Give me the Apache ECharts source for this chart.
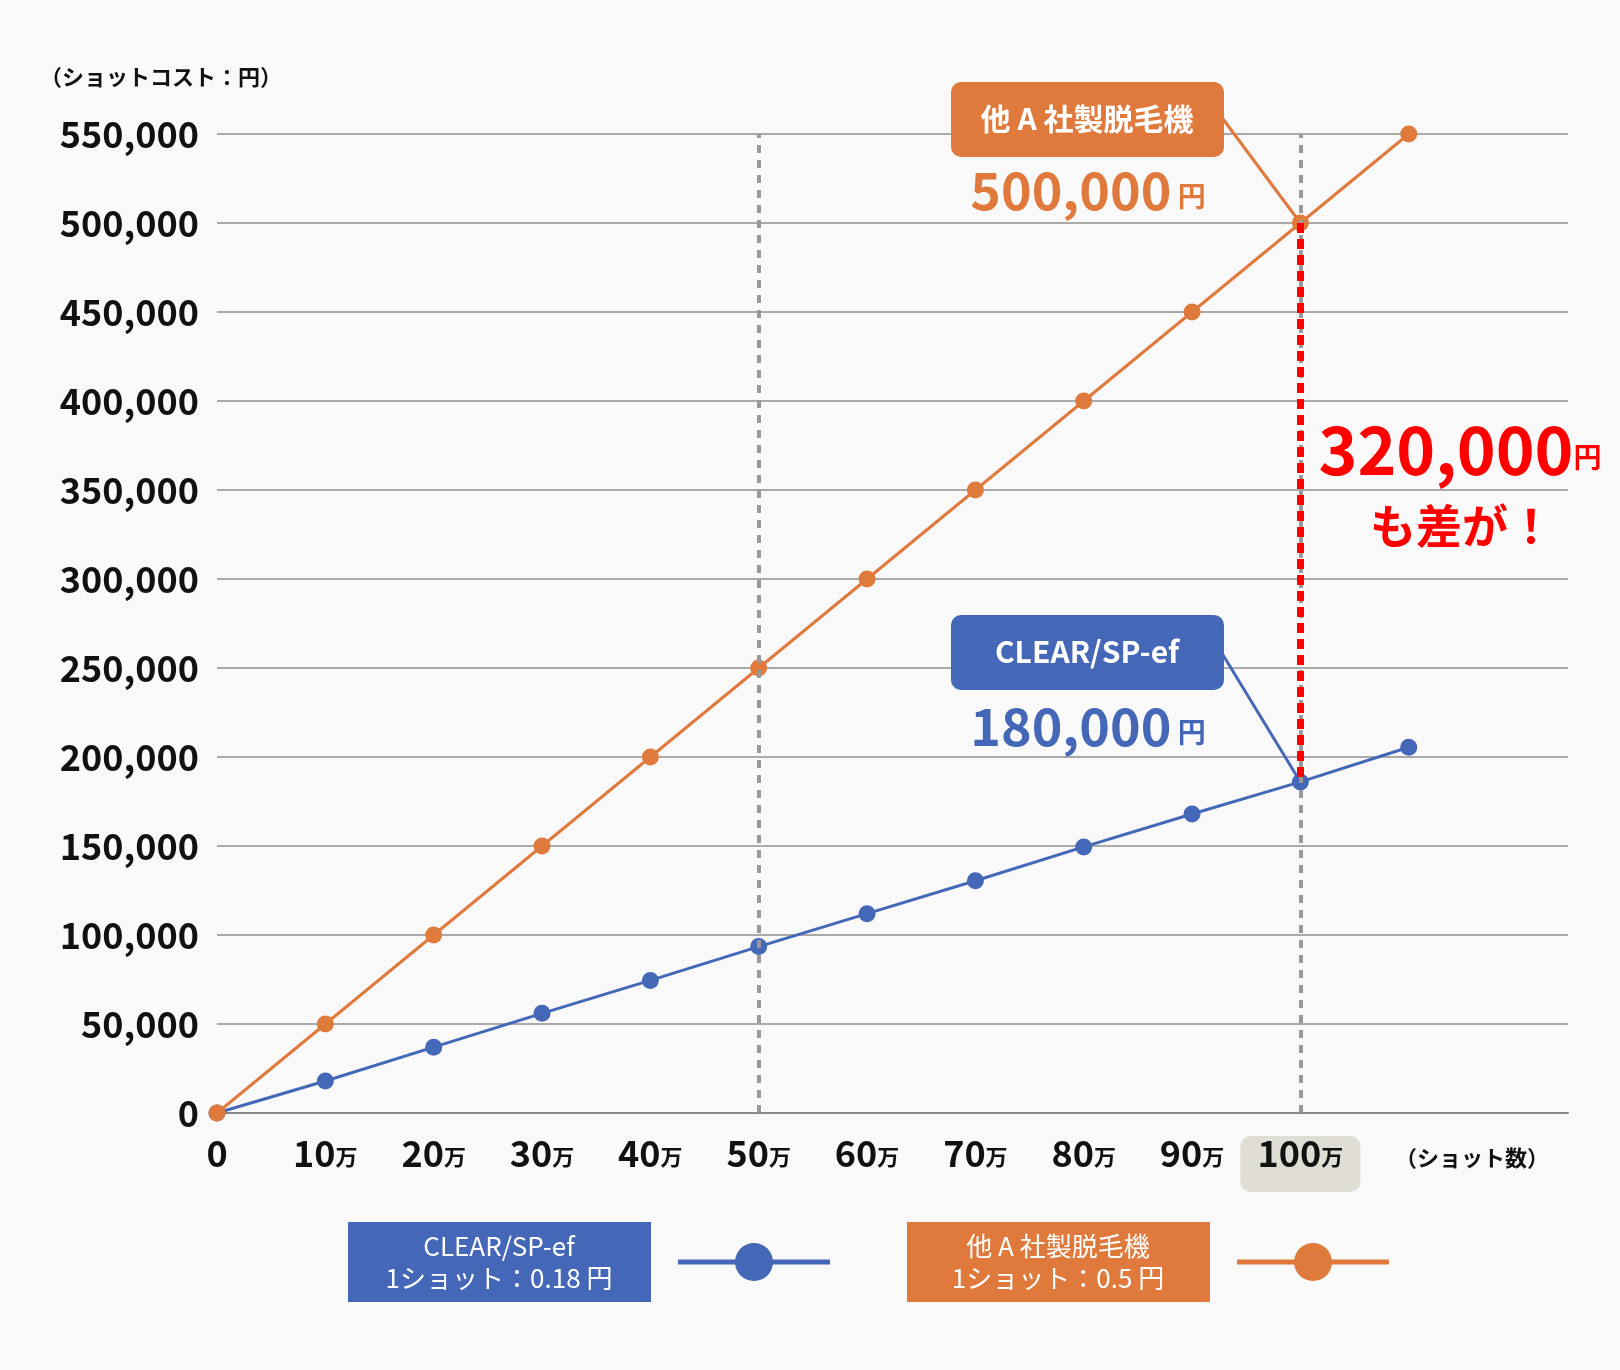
<!DOCTYPE html>
<html><head><meta charset="utf-8">
<script src="https://cdn.jsdelivr.net/npm/echarts@6/dist/echarts.min.js"></script>
<style>html,body{margin:0;background:#f9f9f9}#main{width:1620px;height:1370px}</style>
</head><body><div id="main"></div>
<script>
const shots = [0, 10, 20, 30, 40, 50, 60, 70, 80, 90, 100, 110];
const clearCost = [0, 18000, 37000, 56000, 74500, 93500, 112000, 130500, 149500, 168000, 186000, 205500];
const otherCost = [0, 50000, 100000, 150000, 200000, 250000, 300000, 350000, 400000, 450000, 500000, 550000];
const BLUE = '#4467b8', ORANGE = '#e07a3c', FONT = '"Noto Sans CJK JP", sans-serif';

const chart = echarts.init(document.getElementById('main'));
const pts = a => shots.map((s, i) => [s, a[i]]);

chart.setOption({
	backgroundColor: '#f9f9f9',
	animation: false,
	textStyle: { fontFamily: FONT },
	grid: { left: 217, right: 52, top: 134, bottom: 257 },
	xAxis: {
		type: 'value', min: 0, max: 124.7, interval: 10,
		axisLine: { lineStyle: { color: '#888', width: 2 } },
		axisTick: { show: false }, splitLine: { show: false },
		axisLabel: {
			margin: 22,
			formatter: v => v === 0 ? '{n|0}' : (v > 100 ? '' : '{n|' + v + '}{u|万}'),
			rich: {
				n: { fontSize: 36, fontWeight: 'bold', color: '#111', fontFamily: FONT },
				u: { fontSize: 22, fontWeight: 'bold', color: '#111', fontFamily: FONT, padding: [8, 0, 0, 0] }
			}
		}
	},
	yAxis: {
		type: 'value', min: 0, max: 550000, interval: 50000,
		axisLine: { show: false }, axisTick: { show: false },
		splitLine: { lineStyle: { color: '#aaa', width: 2 } },
		axisLabel: {
			margin: 18, fontSize: 36, fontWeight: 'bold', color: '#111',
			formatter: v => v.toLocaleString('en-US')
		}
	},
	series: [
		{
			type: 'line', data: pts(clearCost), color: BLUE,
			symbol: 'circle', symbolSize: 17, lineStyle: { width: 3 },
			markLine: {
				silent: true, symbol: 'none', label: { show: false },
				lineStyle: { color: '#999', type: [8, 7], width: 4 },
				data: [{ xAxis: 50 }, { xAxis: 100 }]
			}
		},
		{
			type: 'line', data: pts(otherCost), color: ORANGE,
			symbol: 'circle', symbolSize: 17, lineStyle: { width: 3 },
			markLine: {
				silent: true, symbol: 'none', label: { show: false },
				lineStyle: { color: '#f00', type: [10, 6], width: 7 },
				data: [[{ coord: [100, otherCost[10]] }, { coord: [100, clearCost[10]] }]]
			}
		}
	]
});

const P = (x, y) => chart.convertToPixel({ gridIndex: 0 }, [x, y]);
const pO = P(100, otherCost[10]), pB = P(100, clearCost[10]);
const p100 = P(100, 0);
const txt = (x, y, s, o) => ({ type: 'text', x, y, style: Object.assign({ text: s, fontFamily: FONT, fontWeight: 'bold' }, o) });
const box = (x, y, w, h, fill, r) => ({ type: 'rect', shape: { x, y, width: w, height: h, r: r || 0 }, style: { fill } });

chart.setOption({
	graphic: [
		txt(40, 66, '（ショットコスト：円）', { fontSize: 22, fill: '#111' }),
		txt(1395, 1147, '（ショット数）', { fontSize: 22, fill: '#111' }),
		Object.assign(box(p100[0] - 60, 1136, 120, 56, '#e0ddd4', 10), { z: -1 }),
		// orange callout
		{ type: 'line', shape: { x1: 1220, y1: 115, x2: pO[0], y2: pO[1] }, style: { stroke: ORANGE, lineWidth: 3 } },
		box(951, 82, 273, 75, ORANGE, 10),
		txt(1087, 119, '他 A 社製脱毛機', { fontSize: 30, fill: '#fff', align: 'center', verticalAlign: 'middle' }),
		txt(1088, 190, '{n|500,000}{u| 円}', { rich: { n: { fontSize: 52, fontWeight: 'bold', fill: ORANGE, fontFamily: FONT }, u: { fontSize: 28, fontWeight: 'bold', fill: ORANGE, fontFamily: FONT, padding: [12, 0, 0, 0] } }, align: 'center', verticalAlign: 'middle' }),
		// blue callout
		{ type: 'line', shape: { x1: 1220, y1: 650, x2: pB[0], y2: pB[1] }, style: { stroke: BLUE, lineWidth: 3 } },
		box(951, 615, 273, 75, BLUE, 10),
		txt(1087, 652, 'CLEAR/SP-ef', { fontSize: 30, fill: '#fff', align: 'center', verticalAlign: 'middle' }),
		txt(1088, 726, '{n|180,000}{u| 円}', { rich: { n: { fontSize: 52, fontWeight: 'bold', fill: BLUE, fontFamily: FONT }, u: { fontSize: 28, fontWeight: 'bold', fill: BLUE, fontFamily: FONT, padding: [12, 0, 0, 0] } }, align: 'center', verticalAlign: 'middle' }),
		// difference
		txt(1460, 450, '{n|320,000}{u|円}', { rich: { n: { fontSize: 66, fontWeight: 'bold', fill: '#f00', fontFamily: FONT }, u: { fontSize: 28, fontWeight: 'bold', fill: '#f00', fontFamily: FONT, padding: [14, 0, 0, 0] } }, align: 'center', verticalAlign: 'middle' }),
		txt(1462, 526, 'も差が！', { fontSize: 46, fill: '#f00', align: 'center', verticalAlign: 'middle' }),
		// legend
		box(348, 1222, 303, 80, BLUE),
		txt(499, 1262, 'CLEAR/SP-ef\n1ショット：0.18 円', { fontSize: 26, fontWeight: 'normal', fill: '#fff', align: 'center', verticalAlign: 'middle', lineHeight: 32 }),
		{ type: 'line', shape: { x1: 678, y1: 1262, x2: 830, y2: 1262 }, style: { stroke: BLUE, lineWidth: 5 } },
		{ type: 'circle', shape: { cx: 754, cy: 1262, r: 19 }, style: { fill: BLUE } },
		box(907, 1222, 303, 80, ORANGE),
		txt(1058, 1262, '他 A 社製脱毛機\n1ショット：0.5 円', { fontSize: 26, fontWeight: 'normal', fill: '#fff', align: 'center', verticalAlign: 'middle', lineHeight: 32 }),
		{ type: 'line', shape: { x1: 1237, y1: 1262, x2: 1389, y2: 1262 }, style: { stroke: ORANGE, lineWidth: 5 } },
		{ type: 'circle', shape: { cx: 1313, cy: 1262, r: 19 }, style: { fill: ORANGE } }
	]
});
</script></body></html>
